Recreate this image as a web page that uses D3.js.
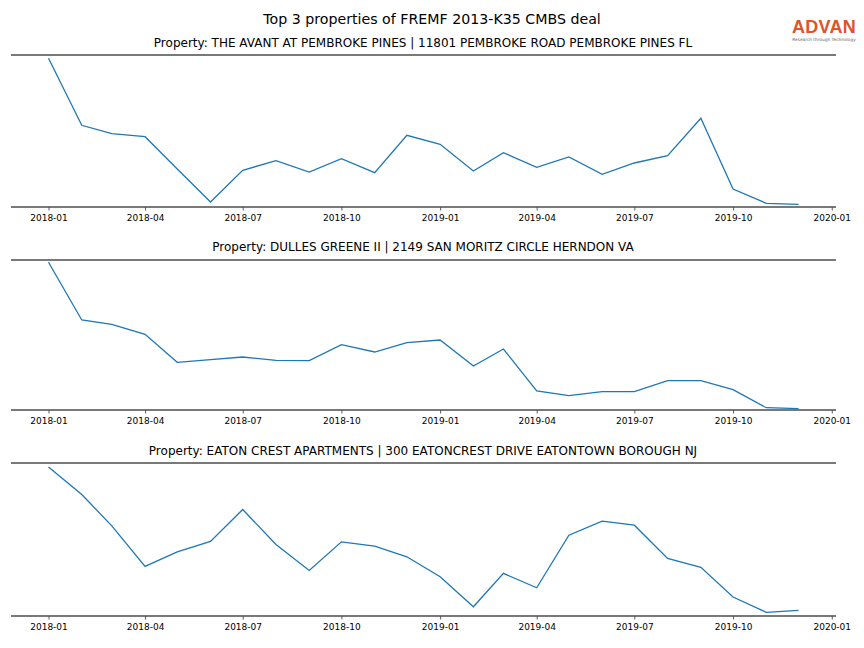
<!DOCTYPE html>
<html>
<head>
<meta charset="utf-8">
<script src="https://cdn.jsdelivr.net/npm/d3@7"></script>
<style>
body { margin: 0; background: #fff; }
svg { display: block; font-family: "DejaVu Sans", sans-serif; }
</style>
</head>
<body>
<svg id="chart" width="864" height="648"></svg>
<script>
const months = ["2018-01","2018-02","2018-03","2018-04","2018-05","2018-06","2018-07","2018-08","2018-09","2018-10","2018-11","2018-12",
                "2019-01","2019-02","2019-03","2019-04","2019-05","2019-06","2019-07","2019-08","2019-09","2019-10","2019-11","2019-12"];
const tickLabels = ["2018-01","2018-04","2018-07","2018-10","2019-01","2019-04","2019-07","2019-10","2020-01"];
const mainTitle = "Top 3 properties of FREMF 2013-K35 CMBS deal";
const propertyTitles = [
  "Property: THE AVANT AT PEMBROKE PINES | 11801 PEMBROKE ROAD PEMBROKE PINES FL",
  "Property: DULLES GREENE II | 2149 SAN MORITZ CIRCLE HERNDON VA",
  "Property: EATON CREST APARTMENTS | 300 EATONCREST DRIVE EATONTOWN BOROUGH NJ"
];
const seriesAvant = [148.7, 81.7, 73.3, 70.3, 38, 5, 36.7, 46.3, 35, 48.3, 34.3, 71.7,
                     62.7, 36, 54.3, 39.7, 50, 32.7, 44, 51.3, 88.7, 18, 3.7, 2.7];
const seriesDulles = [147.7, 90, 85.7, 75.7, 47.7, 50.3, 53, 49.7, 49.3, 65.3, 58, 67.3,
                      70, 44, 61, 19, 14.3, 18.3, 18.3, 29.3, 29.3, 20.3, 2.3, 1.3];
const seriesEaton = [149.3, 121.7, 90.3, 49.7, 64.3, 74.7, 106.7, 71.7, 45.7, 74.3, 70, 59.3,
                     39.3, 9.3, 42.7, 28.3, 81, 95, 91, 57.7, 48.7, 19, 3.7, 5.7];
const yMaxes = [152, 150, 153.3];
const allSeries = [seriesAvant, seriesDulles, seriesEaton];

const svg = d3.select("#chart");
const parse = d3.timeParse("%Y-%m");
const dates = months.map(parse);
const tickDates = tickLabels.map(parse);

const left = 11, right = 836;
const d0 = dates[0], d1 = dates[dates.length - 1];
const span = d1 - d0;
const x = d3.scaleTime()
  .domain([new Date(+d0 - span * 0.05), new Date(+d1 + span * 0.05)])
  .range([left, right]);

const panels = [
  {top: 55, bottom: 207, titleY: 46.5},
  {top: 260, bottom: 410, titleY: 250.5},
  {top: 463, bottom: 616, titleY: 454.5}
];

svg.append("text")
  .attr("x", 432).attr("y", 24)
  .attr("text-anchor", "middle")
  .attr("font-size", 14.2)
  .attr("fill", "#000")
  .text(mainTitle);

// logo
const logo = svg.append("g").attr("transform", "translate(824,0)");
logo.append("text").attr("x", 0).attr("y", 33).attr("text-anchor", "middle")
  .attr("font-family", "Liberation Sans, sans-serif").attr("font-size", 18)
  .attr("font-weight", "bold")
  .attr("fill", "#e0532b").attr("letter-spacing", 0.3).text("ADVAN");
logo.append("text").attr("x", 0).attr("y", 40.5).attr("text-anchor", "middle")
  .attr("font-size", 4.3).attr("fill", "#666").text("Research through Technology");

panels.forEach((p, i) => {
  const data = allSeries[i];
  const y = d3.scaleLinear().domain([0, yMaxes[i]]).range([p.bottom, p.top]);
  const g = svg.append("g");

  g.append("text")
    .attr("x", 423).attr("y", p.titleY)
    .attr("text-anchor", "middle")
    .attr("font-size", 12)
    .attr("fill", "#000")
    .text(propertyTitles[i]);

  const axis = d3.axisBottom(x)
    .tickValues(tickDates)
    .tickFormat(d3.timeFormat("%Y-%m"))
    .tickSize(3.5)
    .tickPadding(4);
  const ax = g.append("g").attr("transform", `translate(0,${p.bottom})`).call(axis);
  ax.select(".domain").remove();
  ax.selectAll(".tick line").attr("stroke", "#333").attr("stroke-width", 0.8);
  ax.selectAll(".tick text").attr("font-size", 9).attr("fill", "#000")
    .attr("font-family", "DejaVu Sans, sans-serif");

  [p.top, p.bottom].forEach(yy => {
    g.append("line")
      .attr("x1", left).attr("x2", right)
      .attr("y1", yy).attr("y2", yy)
      .attr("stroke", "#4d4d4d").attr("stroke-width", 1.6);
  });

  const line = d3.line().x((d, k) => x(dates[k])).y(d => y(d));
  g.append("path").datum(data)
    .attr("d", line)
    .attr("fill", "none")
    .attr("stroke", "#1f77b4")
    .attr("stroke-width", 1.3);
});
</script>
</body>
</html>
